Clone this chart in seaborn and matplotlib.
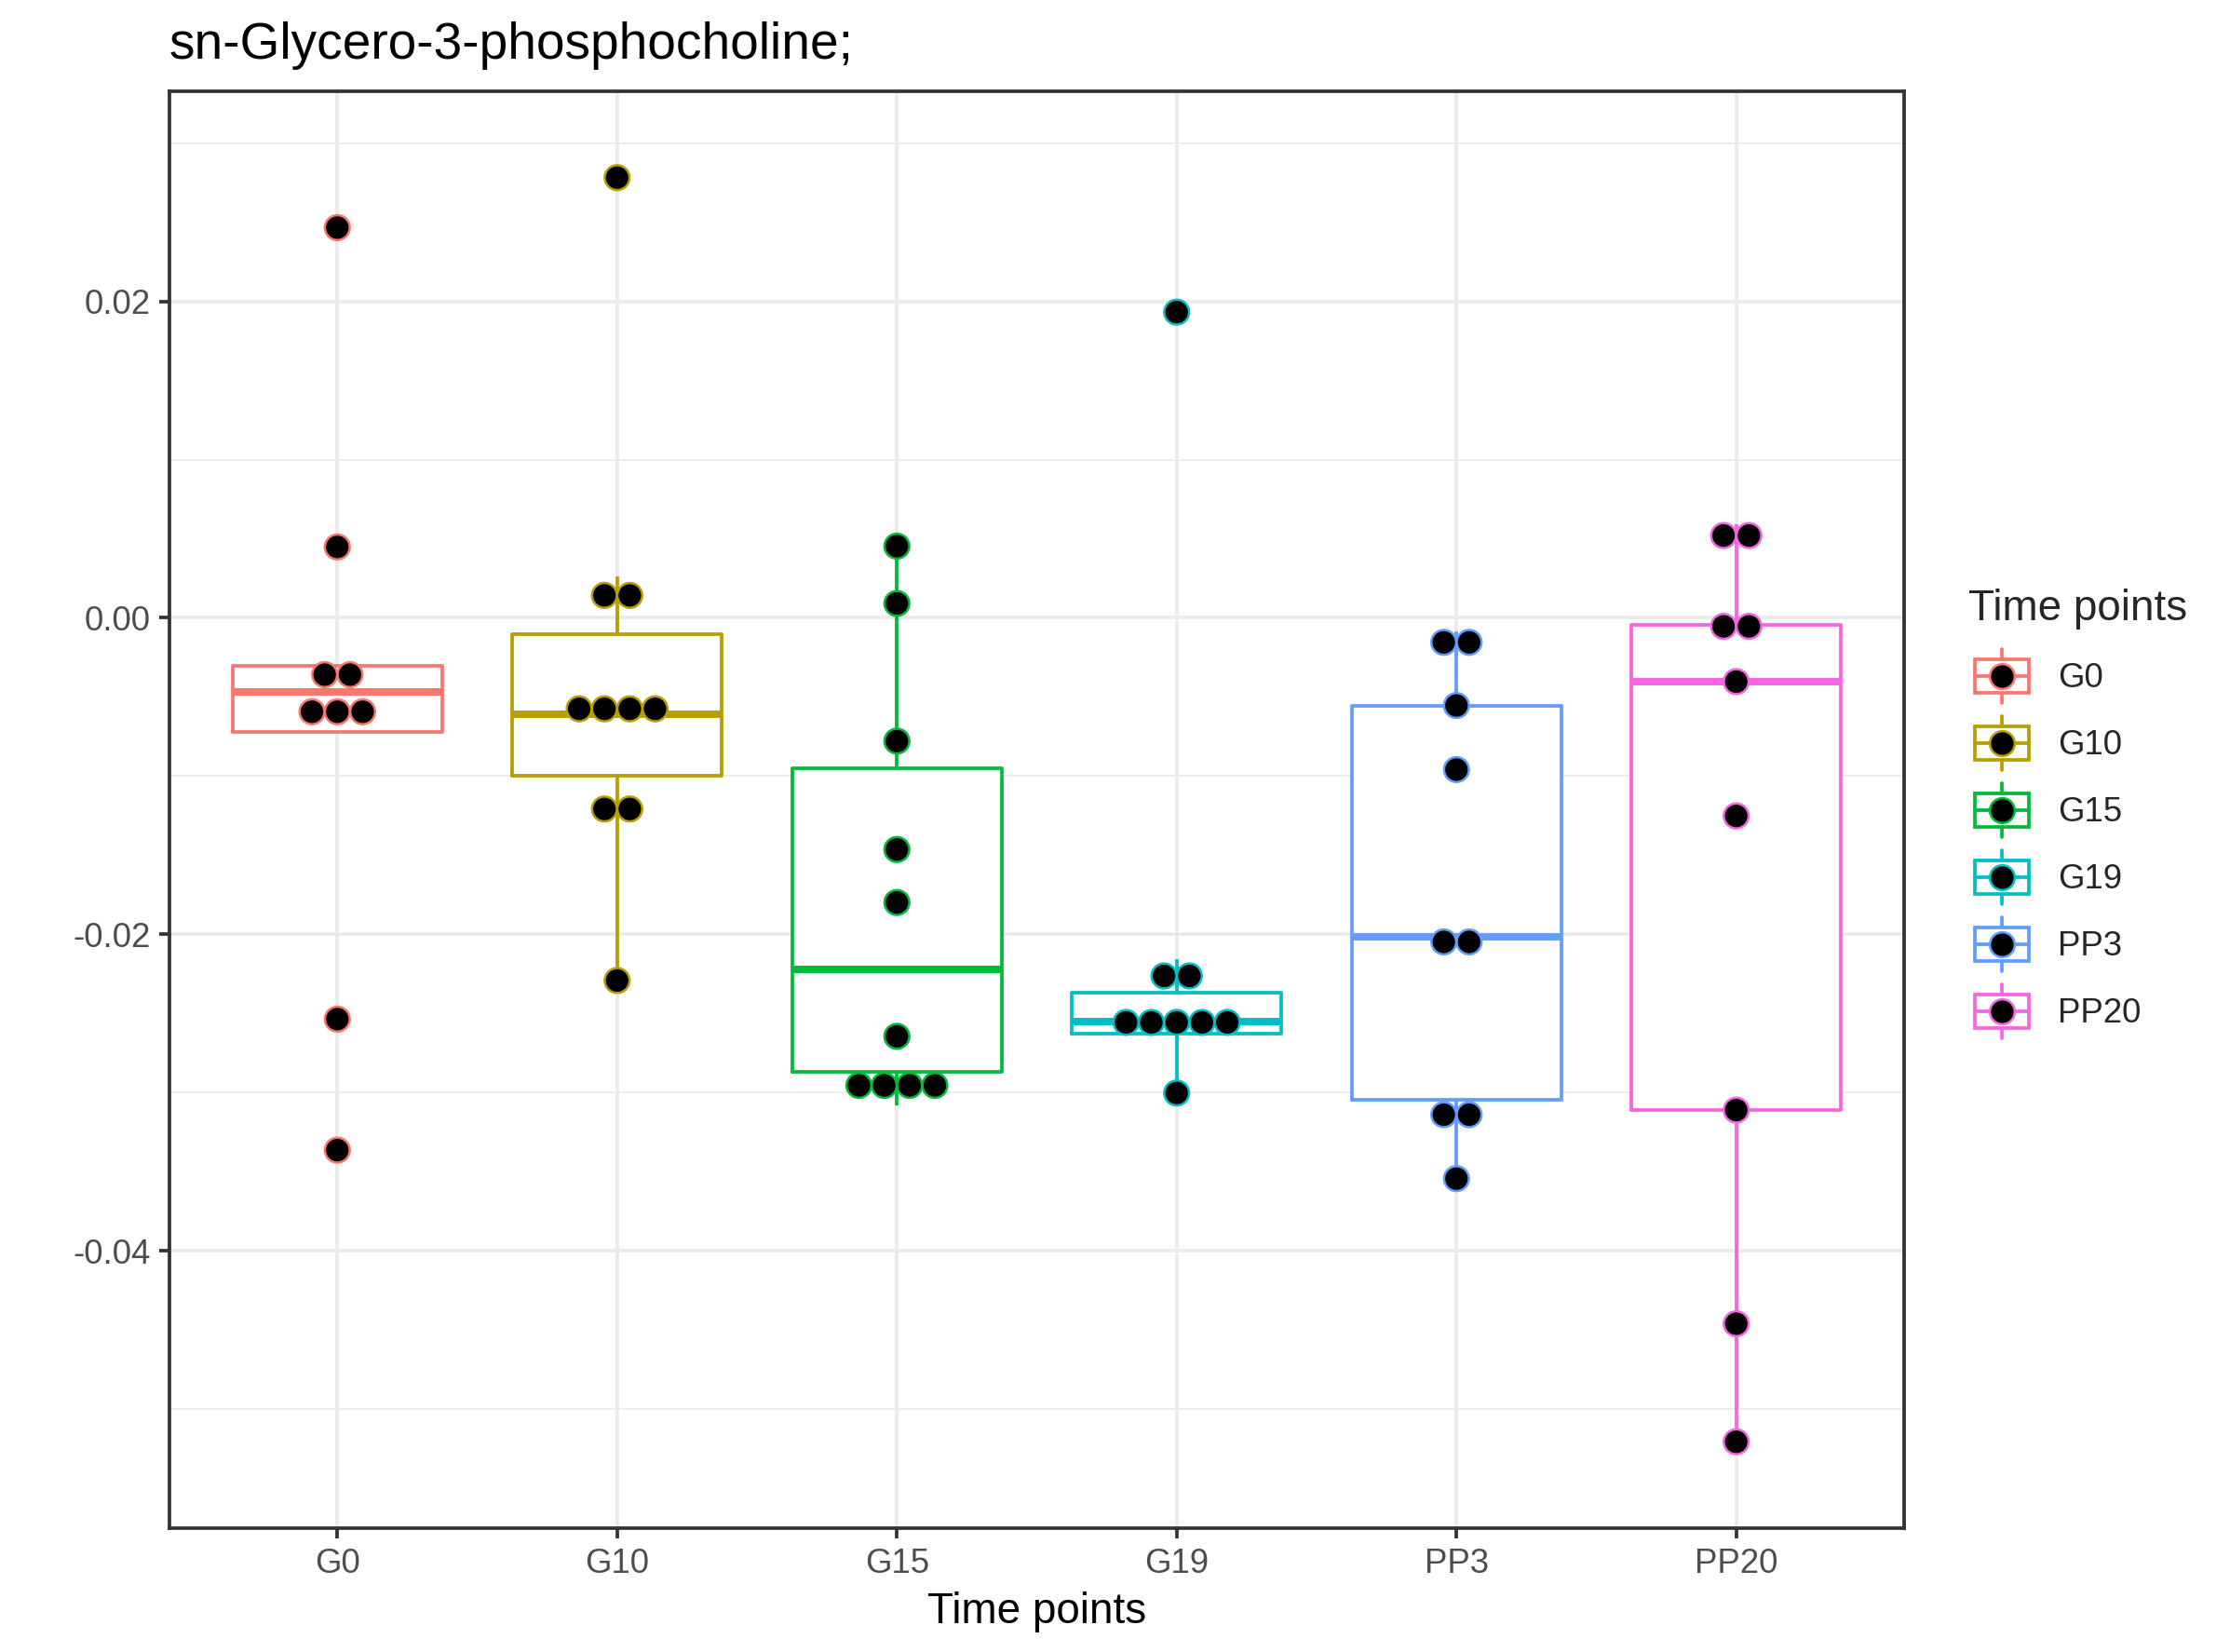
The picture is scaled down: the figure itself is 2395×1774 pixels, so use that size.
import numpy as np
import pandas as pd
import seaborn as sns
import matplotlib
matplotlib.use("Agg")
import matplotlib.pyplot as plt
from matplotlib.lines import Line2D
from matplotlib.patches import Rectangle
from matplotlib.legend_handler import HandlerBase

# data (raw values, dots are binned like geom_dotplot)
TIME_POINTS = ["G0", "G10", "G15", "G19", "PP3", "PP20"]
COLORS = ["#F8766D", "#B79F00", "#00BA38", "#00BFC4", "#619CFF", "#F564E3"]

G0 = [-0.03364, -0.02536, -0.00721, -0.00600, -0.00466, -0.00416, -0.00302, 0.00448, 0.02466]
G10 = [-0.02292, -0.01307, -0.01109, -0.00664, -0.00630, -0.00594, -0.00486, 0.00022, 0.00262, 0.02782]
G15 = [-0.03082, -0.02980, -0.02879, -0.02828, -0.02645, -0.01799, -0.01464, -0.00779, 0.00091, 0.00453]
G19 = [-0.03003, -0.02660, -0.02625, -0.02590, -0.02550, -0.02454, -0.02366, -0.02160, 0.01932]
PP3 = [-0.03544, -0.03234, -0.03046, -0.02082, -0.02014, -0.00959, -0.00554, -0.00225, -0.00085]
PP20 = [-0.05207, -0.04461, -0.03111, -0.01252, -0.00403, -0.00063, -0.00045, 0.00450, 0.00590]

TITLE = "sn-Glycero-3-phosphocholine;"
X_LABEL = "Time points"
LEGEND_TITLE = "Time points"
Y_TICKS = [-0.04, -0.02, 0.00, 0.02]
Y_MINOR = [-0.05, -0.03, -0.01, 0.01, 0.03]

groups = [G0, G10, G15, G19, PP3, PP20]
df = pd.DataFrame({
    "time": np.repeat(TIME_POINTS, [len(g) for g in groups]),
    "value": np.concatenate(groups),
})


def dot_bins(values, binwidth):
    # dotdensity binning: a bin starts at a point and takes all within binwidth
    vals = np.sort(values)
    centers, counts = [], []
    current = []
    binend = -np.inf
    for v in vals:
        if v >= binend:
            if current:
                centers.append((current[0] + current[-1]) / 2)
                counts.append(len(current))
            current = []
            binend = v + binwidth
        current.append(v)
    centers.append((current[0] + current[-1]) / 2)
    counts.append(len(current))
    return centers, counts


class BoxDotHandler(HandlerBase):
    def create_artists(self, legend, orig_handle, xdescent, ydescent,
                       width, height, fontsize, trans):
        col = orig_handle.get_color()
        k = 17.28
        cx = -xdescent + width / 2
        cy = -ydescent + height / 2
        x0, y0 = cx - k / 2, cy - k / 2
        box = Rectangle((x0 + 0.1 * k, y0 + 0.25 * k), 0.8 * k, 0.5 * k,
                        fill=False, edgecolor=col, linewidth=0.9, transform=trans)
        med = Line2D([x0 + 0.1 * k, x0 + 0.9 * k], [cy, cy], color=col, lw=0.9, transform=trans)
        w1 = Line2D([cx, cx], [y0 + 0.1 * k, y0 + 0.25 * k], color=col, lw=0.9, transform=trans)
        w2 = Line2D([cx, cx], [y0 + 0.75 * k, y0 + 0.9 * k], color=col, lw=0.9, transform=trans)
        dot = Line2D([cx], [cy], marker="o", markersize=6.4, markerfacecolor="black",
                     markeredgecolor=col, markeredgewidth=0.6, linestyle="none", transform=trans)
        return [box, med, w1, w2, dot]


sns.set_style("white")
plt.rcParams["font.family"] = ["Liberation Sans", "DejaVu Sans"]

fig = plt.figure(figsize=(2395 / 300, 1774 / 300), dpi=300)
ax = fig.add_axes([182 / 2395, 1 - 1641 / 1774, (2045 - 182) / 2395, (1641 - 98) / 1774])

# white fill under the boxes
sns.boxplot(data=df, x="time", y="value", order=TIME_POINTS, color="white",
            linewidth=0, width=0.75, showfliers=False, showcaps=False, ax=ax)
sns.boxplot(data=df, x="time", y="value", hue="time", order=TIME_POINTS,
            hue_order=TIME_POINTS, palette=COLORS, fill=False, linewidth=0.9,
            width=0.75, showfliers=False, showcaps=False,
            medianprops={"linewidth": 1.9}, legend=False, ax=ax)

vmin, vmax = df["value"].min(), df["value"].max()
binwidth = (vmax - vmin) / 30
spacing = 0.0905
xs, ys, edges = [], [], []
for i, vals in enumerate(groups):
    centers, counts = dot_bins(vals, binwidth)
    for c, n in zip(centers, counts):
        for k in range(n):
            xs.append(i + (k - (n - 1) / 2) * spacing)
            ys.append(c)
            edges.append(COLORS[i])
ax.scatter(xs, ys, s=6.4 ** 2, c="black", edgecolors=edges, linewidths=0.6, zorder=4)

lo = vmin - binwidth / 2
hi = vmax + binwidth / 2
pad = (hi - lo) * 0.05
ax.set_ylim(lo - pad, hi + pad)
ax.set_xlim(-0.6, len(TIME_POINTS) - 0.4)

ax.set_yticks(Y_TICKS)
ax.set_yticklabels([f"{v:.2f}" for v in Y_TICKS])
ax.set_yticks(Y_MINOR, minor=True)
ax.set_axisbelow(True)
ax.grid(which="major", color="#EBEBEB", linewidth=0.9)
ax.grid(which="minor", axis="y", color="#EBEBEB", linewidth=0.45)
ax.tick_params(which="major", length=2.75, width=0.9, color="#333333",
               labelsize=8.8, labelcolor="#4D4D4D", pad=2.2, left=True, bottom=True)
ax.tick_params(which="minor", length=0)
for s in ax.spines.values():
    s.set_color("#333333")
    s.set_linewidth(0.9)

ax.set_xlabel(X_LABEL, fontsize=11, color="black", labelpad=3)
ax.set_ylabel("")
ax.set_title(TITLE, loc="left", fontsize=13.2, color="black", pad=8.4)

handles = [Line2D([], [], color=c) for c in COLORS]
fig.legend(handles, TIME_POINTS, handler_map={h: BoxDotHandler() for h in handles},
           loc="center left", bbox_to_anchor=(2114 / 2395, 1 - 869.5 / 1774),
           frameon=False, borderpad=0, borderaxespad=0, fontsize=8.8,
           title=LEGEND_TITLE, title_fontsize=11, handlelength=1.96,
           handleheight=1.413, labelspacing=0.8, handletextpad=0.65,
           alignment="left")

fig.savefig("out.png", dpi=300)
